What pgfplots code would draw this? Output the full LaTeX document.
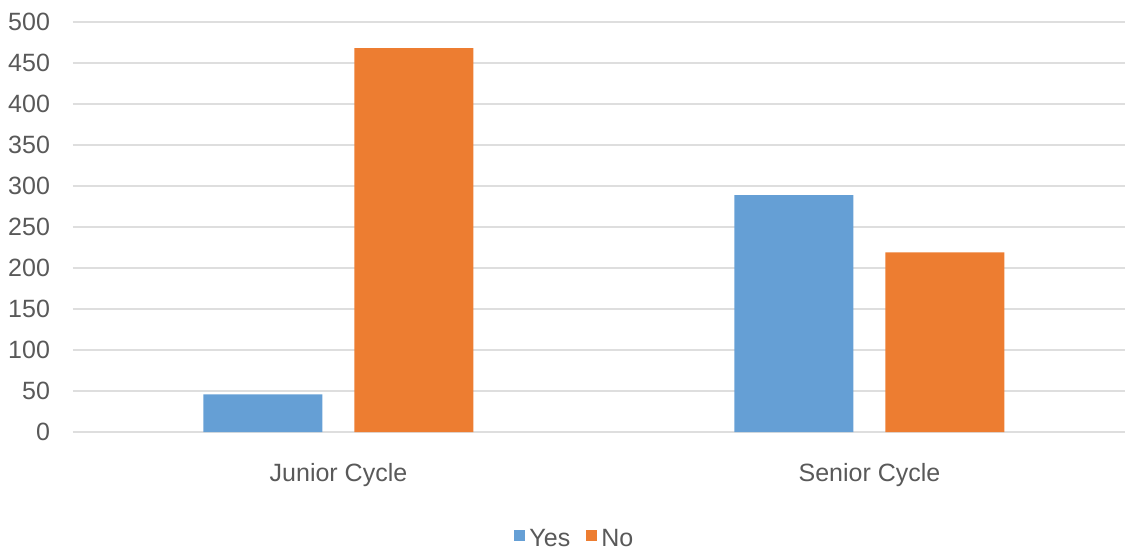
\documentclass[border=0pt]{standalone}
\usepackage{fontspec}
\setmainfont{Liberation Sans}
\usepackage{pgfplots}
\pgfplotsset{compat=1.18}
\definecolor{cyes}{HTML}{659FD5}
\definecolor{cno}{HTML}{ED7D31}
\definecolor{gridc}{HTML}{DEDEDE}
\definecolor{txt}{HTML}{595959}
\begin{document}
\begin{tikzpicture}
\begin{axis}[name=ax,
  x=265.5pt, y=0.41pt,
  xmin=-0.5, xmax=1.4812, ymin=0, ymax=500,
  axis line style={draw=none},
  ytick={0,50,...,500}, ymajorgrids, grid style={gridc, line width=0.8pt},
  major tick length=0pt,
  xtick={0,1}, xticklabels={Junior Cycle, Senior Cycle},
  /pgf/number format/assume math mode=true,
  ticklabel style={font=\fontsize{12.5}{15}\selectfont, text=txt},
  yticklabel style={xshift=-8pt},
  xticklabel style={yshift=-12pt},
  ybar=16pt, bar width=59.5pt,
  legend style={at={(rel axis cs:0.478,-0.262)}, anchor=center, draw=none,
    legend columns=2, font=\fontsize{12.5}{15}\selectfont, text=txt,
    /tikz/every even column/.append style={column sep=6pt}},
  legend image code/.code={\fill[#1] (0pt,-1pt) rectangle (5.5pt,4.5pt);},
]
\addplot[fill=cyes, draw=none] coordinates {(0,46) (1,289)};
\addplot[fill=cno, draw=none] coordinates {(0,468) (1,219)};
\legend{Yes, No}
\end{axis}
\pgfresetboundingbox
\path ([xshift=-36.5pt,yshift=-58.5pt]ax.south west) rectangle ([yshift=11pt]ax.north east);
\end{tikzpicture}
\end{document}
